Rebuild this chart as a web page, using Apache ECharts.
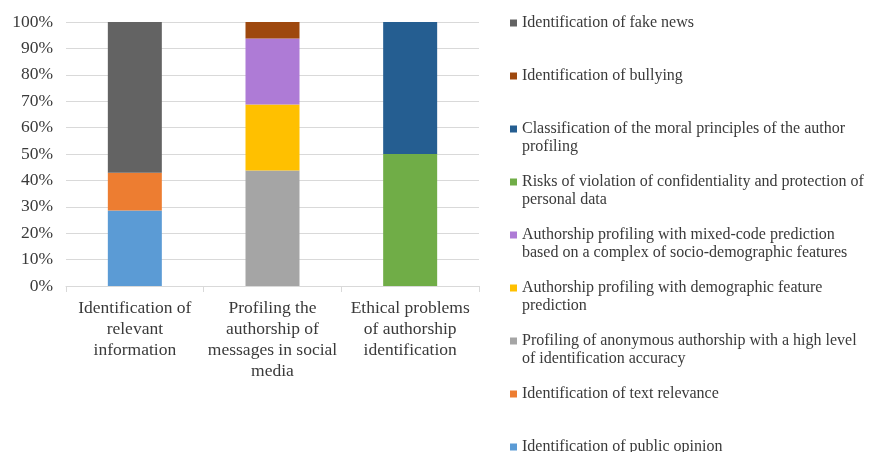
<!DOCTYPE html>
<html>
<head>
<meta charset="utf-8">
<script src="https://cdn.jsdelivr.net/npm/echarts@6/dist/echarts.min.js"></script>
<style>html,body{margin:0;padding:0;background:#fff;}#c{width:873px;height:452px;}</style>
</head>
<body>
<div id="c"></div>
<script>
// Categories (x axis)
const categories = [
  "Identification of\nrelevant\ninformation",
  "Profiling the\nauthorship of\nmessages in social\nmedia",
  "Ethical problems\nof authorship\nidentification"
];
// Series names, in stack order (bottom to top)
const seriesNames = [
  "Identification of public opinion",
  "Identification of text relevance",
  "Profiling of anonymous authorship with a high level of identification accuracy",
  "Authorship profiling with demographic feature prediction",
  "Authorship profiling with mixed-code prediction based on a complex of socio-demographic features",
  "Risks of violation of confidentiality and protection of personal data",
  "Classification of the moral principles of the author profiling",
  "Identification of bullying",
  "Identification of fake news"
];
// Legend labels as wrapped in the reference
const legendLabels = [
  "Identification of public opinion",
  "Identification of text relevance",
  "Profiling of anonymous authorship with a high level\nof identification accuracy",
  "Authorship profiling with demographic feature\nprediction",
  "Authorship profiling with mixed-code prediction\nbased on a complex of socio-demographic features",
  "Risks of violation of confidentiality and protection of\npersonal data",
  "Classification of the moral principles of the author\nprofiling",
  "Identification of bullying",
  "Identification of fake news"
];
// Values (percent share within each category)
const publicOpinion = [28.6, null, null];
const textRelevance = [14.3, null, null];
const anonymousAuthorship = [null, 43.75, null];
const demographicPrediction = [null, 25, null];
const mixedCodePrediction = [null, 25, null];
const confidentialityRisks = [null, null, 50];
const moralPrinciples = [null, null, 50];
const bullying = [null, 6.25, null];
const fakeNews = [57.1, null, null];
const seriesValues = [publicOpinion, textRelevance, anonymousAuthorship, demographicPrediction,
  mixedCodePrediction, confidentialityRisks, moralPrinciples, bullying, fakeNews];
const colors = ["#5b9bd5", "#ed7d31", "#a5a5a5", "#ffc000", "#ae7bd6", "#70ad47", "#255e91", "#9e480e", "#636363"];
// Y tick labels
const yMin = 0, yMax = 100, yStep = 10;

const font = "'Liberation Serif', 'Times New Roman', serif";
const textColor = "#3a3a3a";
const labelMap = {};
seriesNames.forEach((n, i) => {
  const l = legendLabels[i];
  // two-line labels get a blank first line so that the first text line sits beside the marker
  labelMap[n] = l.indexOf("\n") >= 0 ? "\u00a0\n" + l : l;
});

const legendData = seriesNames.slice().reverse().map(n => {
  const twoLine = labelMap[n].indexOf("\n") >= 0;
  return { name: n, textStyle: { padding: twoLine ? [0, 0, 0, 0] : [18, 0, 18, 0] } };
});

const chart = echarts.init(document.getElementById('c'), null, { renderer: 'canvas' });
chart.setOption({
  animation: false,
  color: colors,
  grid: { left: 66, right: 394, top: 22, bottom: 166, containLabel: false },
  legend: {
    orient: 'vertical',
    left: 510,
    top: -4,
    height: 600,
    padding: 0,
    itemGap: -1,
    itemWidth: 7,
    itemHeight: 7,
    icon: 'rect',
    selectedMode: false,
    data: legendData,
    formatter: n => labelMap[n],
    textStyle: { fontFamily: font, fontSize: 16, lineHeight: 18, color: textColor }
  },
  xAxis: {
    type: 'category',
    data: categories,
    axisLine: { lineStyle: { color: '#d9d9d9', width: 1 } },
    axisTick: { show: true, alignWithLabel: false, length: 6, lineStyle: { color: '#d9d9d9' } },
    axisLabel: { interval: 0, margin: 12, fontFamily: font, fontSize: 17.5, lineHeight: 21, color: textColor, align: 'center' }
  },
  yAxis: {
    type: 'value',
    min: yMin, max: yMax, interval: yStep,
    axisLine: { show: false },
    axisTick: { show: false },
    splitLine: { lineStyle: { color: '#d9d9d9', width: 1 } },
    axisLabel: { formatter: '{value}%', margin: 13, fontFamily: font, fontSize: 17.5, color: textColor }
  },
  series: seriesNames.map((n, i) => ({
    name: n,
    type: 'bar',
    stack: 'total',
    barWidth: 54,
    data: seriesValues[i],
    itemStyle: { color: colors[i] }
  }))
});
</script>
</body>
</html>
